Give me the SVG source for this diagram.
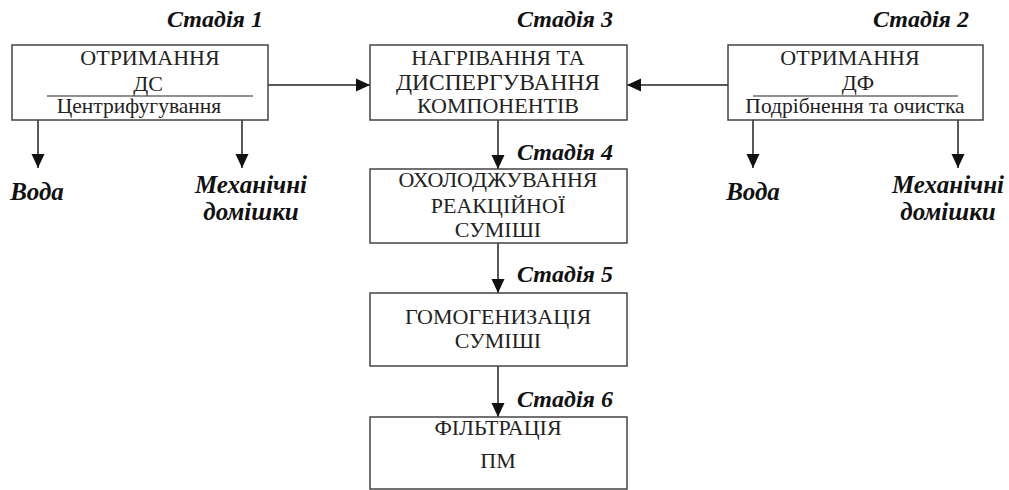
<svg xmlns="http://www.w3.org/2000/svg" width="1009" height="490" viewBox="0 0 1009 490">
<style>
text{font-family:"Liberation Serif","Times New Roman",serif}
.t{font-size:22px;fill:#222;text-anchor:middle}
.s{font-size:21.5px;fill:#222;text-anchor:middle}
.st{font-size:24px;font-weight:bold;font-style:italic;fill:#111}
.lb{font-size:25px;font-weight:bold;font-style:italic;fill:#111;text-anchor:middle}
.box{fill:#fff;stroke:#444;stroke-width:1.5}
.c{fill:none;stroke:#222;stroke-width:1.5}
</style>
<defs>
<marker id="ar" markerWidth="14" markerHeight="16" refX="14" refY="8" orient="auto" markerUnits="userSpaceOnUse">
<path d="M0,1.5 L14,8 L0,14.5 Z" fill="#111"/>
</marker>
</defs>
<rect width="1009" height="490" fill="#fff"/>
<g id="connectors">
<line class="c" x1="268" y1="85" x2="370" y2="85" marker-end="url(#ar)"/>
<line class="c" x1="728" y1="85" x2="627" y2="85" marker-end="url(#ar)"/>
<line class="c" x1="38" y1="120" x2="38" y2="168" marker-end="url(#ar)"/>
<line class="c" x1="242" y1="120" x2="242" y2="168" marker-end="url(#ar)"/>
<line class="c" x1="753" y1="120" x2="753" y2="168" marker-end="url(#ar)"/>
<line class="c" x1="958" y1="120" x2="958" y2="168" marker-end="url(#ar)"/>
<line class="c" x1="498" y1="120" x2="498" y2="169" marker-end="url(#ar)"/>
<line class="c" x1="498" y1="243" x2="498" y2="293" marker-end="url(#ar)"/>
<line class="c" x1="498" y1="366" x2="498" y2="417" marker-end="url(#ar)"/>
</g>
<g id="stage1">
<text class="st" x="167" y="27">Стадія 1</text>
<rect class="box" x="12" y="45" width="256" height="75"/>
<text class="t" x="150" y="65">ОТРИМАННЯ</text>
<text class="t" x="148" y="91">ДС</text>
<line x1="47" y1="96" x2="253" y2="96" stroke="#222" stroke-width="1.2"/>
<text class="s" x="139" y="113">Центрифугування</text>
</g>
<g id="stage3">
<text class="st" x="517" y="27">Стадія 3</text>
<rect class="box" x="370" y="45" width="257" height="75"/>
<text class="t" x="498" y="65">НАГРІВАННЯ ТА</text>
<text class="t" x="498" y="90" style="font-size:23.5px">ДИСПЕРГУВАННЯ</text>
<text class="t" x="498" y="113">КОМПОНЕНТІВ</text>
</g>
<g id="stage2">
<text class="st" x="873" y="27">Стадія 2</text>
<rect class="box" x="728" y="45" width="255" height="75"/>
<text class="t" x="850" y="65">ОТРИМАННЯ</text>
<text class="t" x="858" y="90">ДФ</text>
<line x1="753" y1="96" x2="958" y2="96" stroke="#222" stroke-width="1.2"/>
<text class="s" x="855" y="113">Подрібнення та очистка</text>
</g>
<g id="out1">
<text class="lb" x="37" y="200">Вода</text>
<text class="lb" x="251" y="193">Механічні</text>
<text class="lb" x="251" y="220">домішки</text>
</g>
<g id="out2">
<text class="lb" x="753" y="200">Вода</text>
<text class="lb" x="948" y="193">Механічні</text>
<text class="lb" x="948" y="220">домішки</text>
</g>
<g id="stage4">
<text class="st" x="517" y="160">Стадія 4</text>
<rect class="box" x="370" y="169" width="257" height="74"/>
<text class="t" x="498" y="187">ОХОЛОДЖУВАННЯ</text>
<text class="t" x="498" y="213">РЕАКЦІЙНОЇ</text>
<text class="t" x="498" y="237">СУМІШІ</text>
</g>
<g id="stage5">
<text class="st" x="517" y="282">Стадія 5</text>
<rect class="box" x="370" y="293" width="257" height="73"/>
<text class="t" x="498" y="324">ГОМОГЕНИЗАЦІЯ</text>
<text class="t" x="498" y="348">СУМІШІ</text>
</g>
<g id="stage6">
<text class="st" x="517" y="407">Стадія 6</text>
<rect class="box" x="370" y="417" width="257" height="72"/>
<text class="t" x="498" y="435">ФІЛЬТРАЦІЯ</text>
<text class="t" x="498" y="468">ПМ</text>
</g>
</svg>
